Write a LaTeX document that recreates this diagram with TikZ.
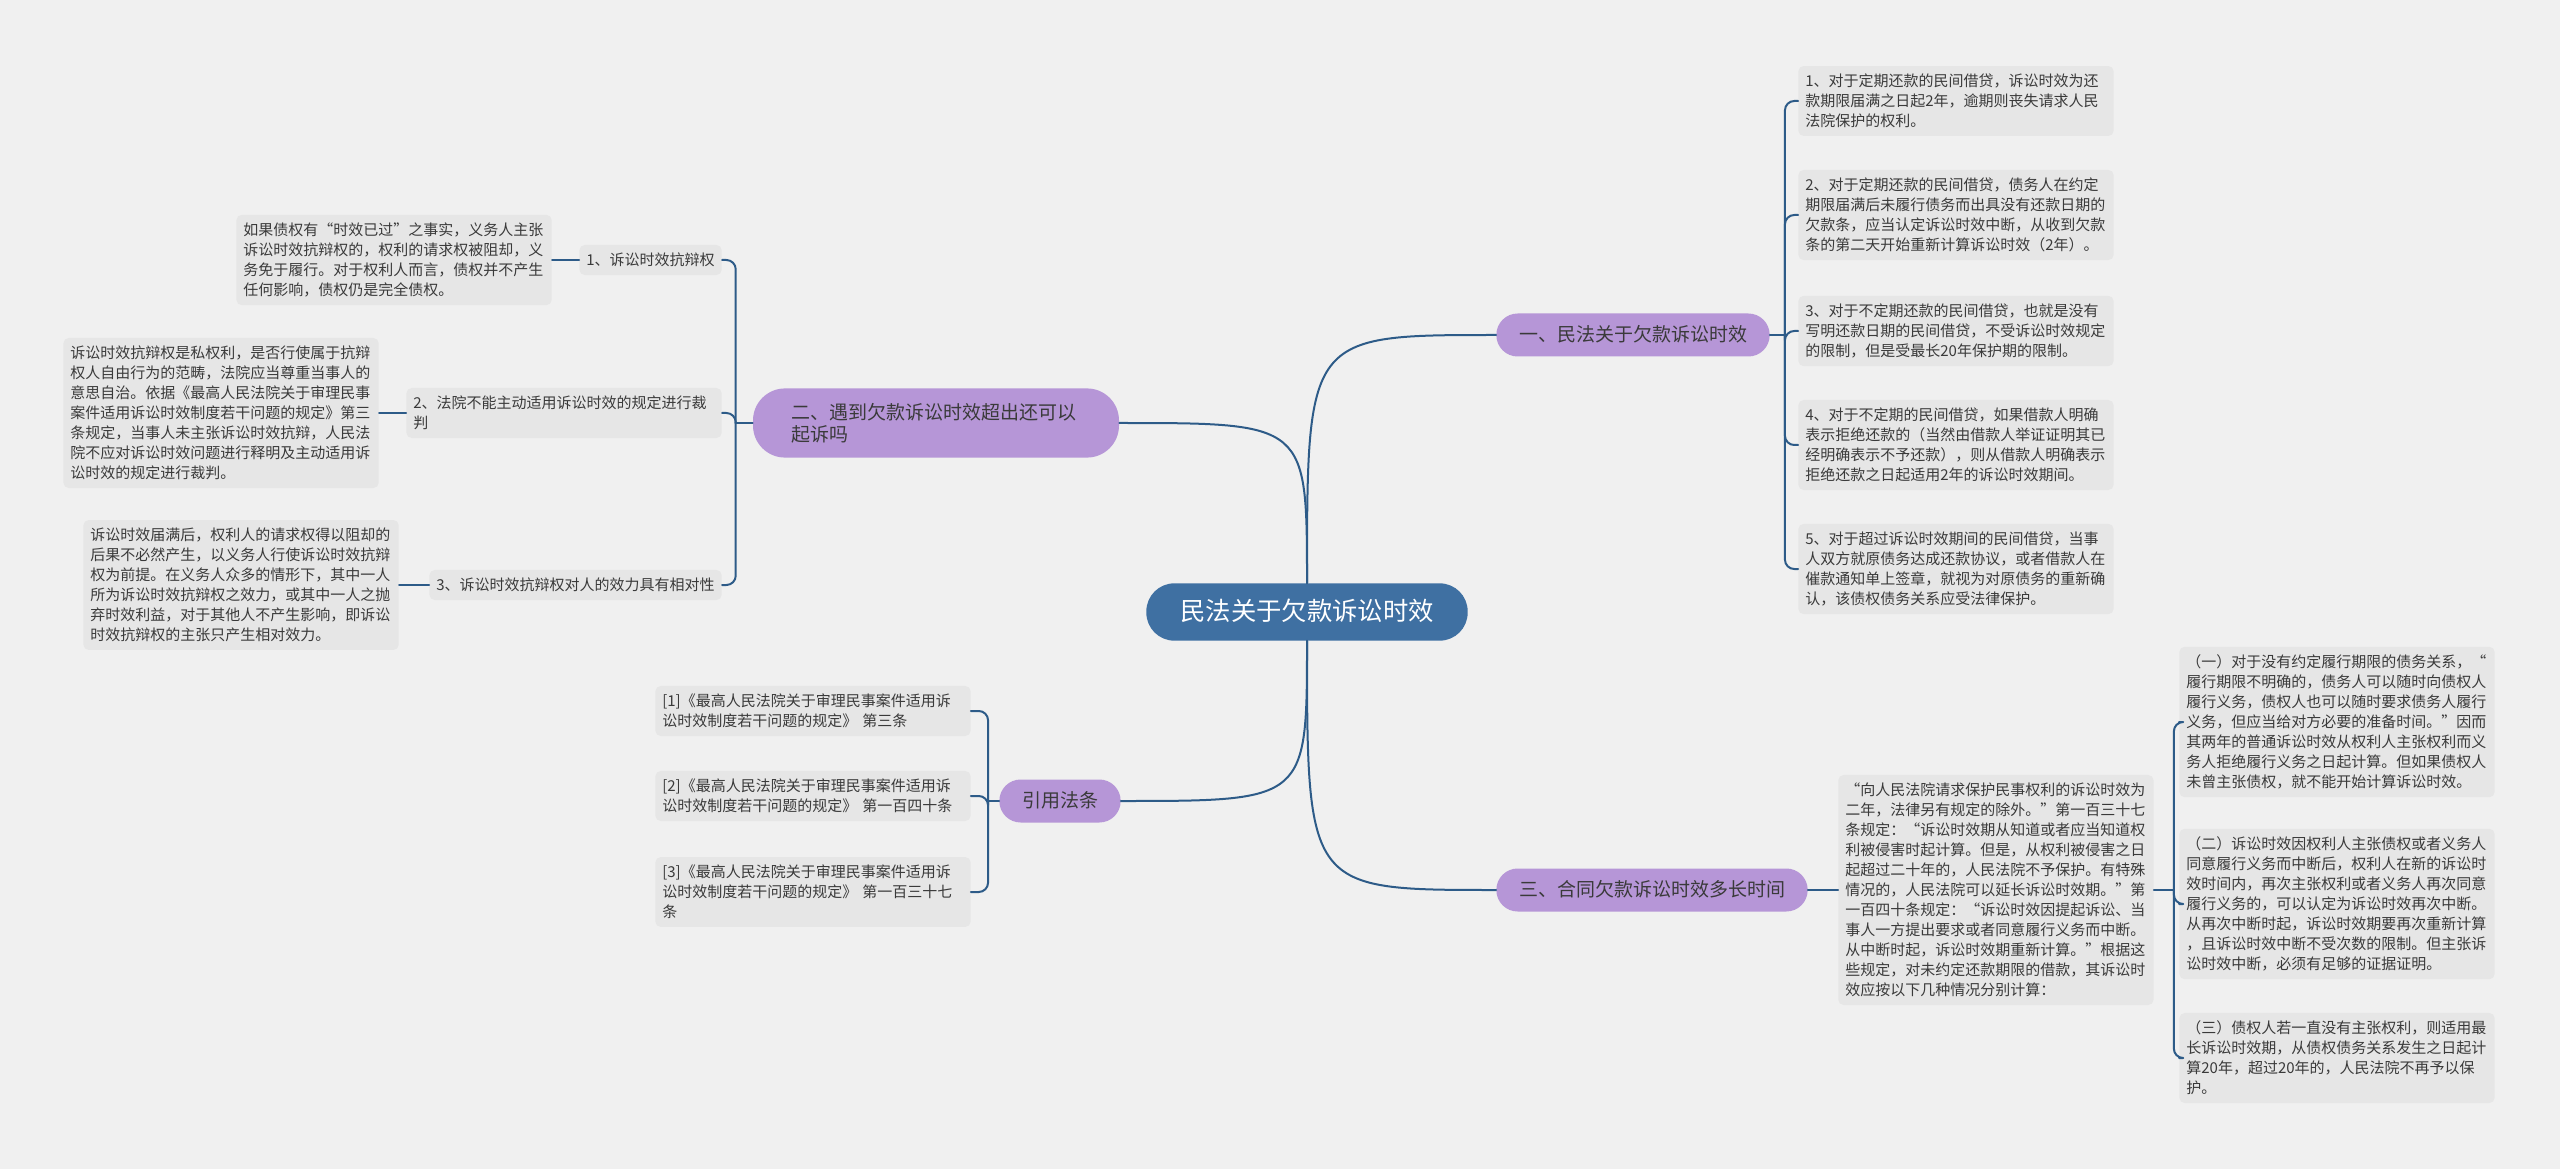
\documentclass[tikz,border=0pt]{standalone}
\usepackage{fontspec}
\setmainfont{Noto Sans CJK SC}
\usetikzlibrary{calc}
\definecolor{bgc}{HTML}{F0F0F0}
\definecolor{leafc}{HTML}{E6E6E6}
\definecolor{branchc}{HTML}{B696D7}
\definecolor{rootc}{HTML}{3F70A2}
\definecolor{linkc}{HTML}{2D5B88}
\definecolor{txtc}{HTML}{3A3A3A}
\begin{document}
\begin{tikzpicture}[x=0.75pt,y=-0.75pt,line join=round,line cap=round,
    link/.style={draw=linkc,line width=1.5pt},
    box/.style={fill=leafc,rounded corners=4pt,text=txtc,align=left,inner xsep=5.25pt,inner ysep=6pt,font=\fontsize{11.25}{15}\selectfont},
    leaf/.style={box,text width=226pt},
    branch/.style={fill=branchc,rounded corners=16pt,text=txtc,inner xsep=17pt,inner ysep=9pt,text height=12pt,text depth=2.25pt,font=\fontsize{14.25}{16.5}\selectfont}]
\useasboundingbox (0,0) rectangle (2560,1169);
\fill[bgc] (0,0) rectangle (2560,1169);
\node[fill=rootc,text=white,rounded corners=21pt,inner xsep=25.5pt,inner ysep=12pt,text height=16pt,text depth=3pt,font=\fontsize{19}{22}\selectfont] (root) at (1307,612) {民法关于欠款诉讼时效};
\node[branch] (b1) at (1633,335) {一、民法关于欠款诉讼时效};
\node[branch,align=left,text width=217.5pt,inner xsep=28.5pt,inner ysep=11pt,rounded corners=24pt,text height=,text depth=] (b2) at (936,423) {二、遇到欠款诉讼时效超出还可以\\起诉吗};
\node[branch] (b3) at (1652,890) {三、合同欠款诉讼时效多长时间};
\node[branch] (b4) at (1060,801) {引用法条};
\node[leaf] (l1) at (1956,101) {1、对于定期还款的民间借贷，诉讼时效为还\\款期限届满之日起2年，逾期则丧失请求人民\\法院保护的权利。};
\node[leaf] (l2) at (1956,215) {2、对于定期还款的民间借贷，债务人在约定\\期限届满后未履行债务而出具没有还款日期的\\欠款条，应当认定诉讼时效中断，从收到欠款\\条的第二天开始重新计算诉讼时效（2年）。};
\node[leaf] (l3) at (1956,331) {3、对于不定期还款的民间借贷，也就是没有\\写明还款日期的民间借贷，不受诉讼时效规定\\的限制，但是受最长20年保护期的限制。};
\node[leaf] (l4) at (1956,445) {4、对于不定期的民间借贷，如果借款人明确\\表示拒绝还款的（当然由借款人举证证明其已\\经明确表示不予还款），则从借款人明确表示\\拒绝还款之日起适用2年的诉讼时效期间。};
\node[leaf] (l5) at (1956,569) {5、对于超过诉讼时效期间的民间借贷，当事\\人双方就原债务达成还款协议，或者借款人在\\催款通知单上签章，就视为对原债务的重新确\\认，该债权债务关系应受法律保护。};
\node[box,anchor=east] (s1) at (722,260) {1、诉讼时效抗辩权};
\node[leaf,anchor=east] (s2) at (722,413) {2、法院不能主动适用诉讼时效的规定进行裁\\判};
\node[box,anchor=east] (s3) at (722,585) {3、诉讼时效抗辩权对人的效力具有相对性};
\node[leaf,anchor=east] (d1) at (552,260) {如果债权有“时效已过”之事实，义务人主张\\诉讼时效抗辩权的，权利的请求权被阻却，义\\务免于履行。对于权利人而言，债权并不产生\\任何影响，债权仍是完全债权。};
\node[leaf,anchor=east] (d2) at (379,413) {诉讼时效抗辩权是私权利，是否行使属于抗辩\\权人自由行为的范畴，法院应当尊重当事人的\\意思自治。依据《最高人民法院关于审理民事\\案件适用诉讼时效制度若干问题的规定》第三\\条规定，当事人未主张诉讼时效抗辩，人民法\\院不应对诉讼时效问题进行释明及主动适用诉\\讼时效的规定进行裁判。};
\node[leaf,anchor=east] (d3) at (399,585) {诉讼时效届满后，权利人的请求权得以阻却的\\后果不必然产生，以义务人行使诉讼时效抗辩\\权为前提。在义务人众多的情形下，其中一人\\所为诉讼时效抗辩权之效力，或其中一人之抛\\弃时效利益，对于其他人不产生影响，即诉讼\\时效抗辩权的主张只产生相对效力。};
\node[leaf] (r1) at (813,711) {[1]《最高人民法院关于审理民事案件适用诉\\讼时效制度若干问题的规定》 第三条};
\node[leaf] (r2) at (813,796) {[2]《最高人民法院关于审理民事案件适用诉\\讼时效制度若干问题的规定》 第一百四十条};
\node[leaf] (r3) at (813,892) {[3]《最高人民法院关于审理民事案件适用诉\\讼时效制度若干问题的规定》 第一百三十七\\条};
\node[leaf,anchor=west] (d4) at (1838,890) {“向人民法院请求保护民事权利的诉讼时效为\\二年，法律另有规定的除外。”第一百三十七\\条规定：“诉讼时效期从知道或者应当知道权\\利被侵害时起计算。但是，从权利被侵害之日\\起超过二十年的，人民法院不予保护。有特殊\\情况的，人民法院可以延长诉讼时效期。”第\\一百四十条规定：“诉讼时效因提起诉讼、当\\事人一方提出要求或者同意履行义务而中断。\\从中断时起，诉讼时效期重新计算。”根据这\\些规定，对未约定还款期限的借款，其诉讼时\\效应按以下几种情况分别计算：};
\node[leaf] (t1) at (2337,722) {（一）对于没有约定履行期限的债务关系，“\\履行期限不明确的，债务人可以随时向债权人\\履行义务，债权人也可以随时要求债务人履行\\义务，但应当给对方必要的准备时间。”因而\\其两年的普通诉讼时效从权利人主张权利而义\\务人拒绝履行义务之日起计算。但如果债权人\\未曾主张债权，就不能开始计算诉讼时效。};
\node[leaf] (t2) at (2337,904) {（二）诉讼时效因权利人主张债权或者义务人\\同意履行义务而中断后，权利人在新的诉讼时\\效时间内，再次主张权利或者义务人再次同意\\履行义务的，可以认定为诉讼时效再次中断。\\从再次中断时起，诉讼时效期要再次重新计算\\，且诉讼时效中断不受次数的限制。但主张诉\\讼时效中断，必须有足够的证据证明。};
\node[leaf] (t3) at (2337,1058) {（三）债权人若一直没有主张权利，则适用最\\长诉讼时效期，从债权债务关系发生之日起计\\算20年，超过20年的，人民法院不再予以保\\护。};
\draw[link] (root.north) .. controls (root.north |- b1.west) .. (b1.west);
\draw[link] (root.north) .. controls (root.north |- b2.east) .. (b2.east);
\draw[link] (root.south) .. controls (root.south |- b3.west) .. (b3.west);
\draw[link] (root.south) .. controls (root.south |- b4.east) .. (b4.east);
\coordinate (j1) at ($(b1.east)+(15,0)$);
\coordinate (j2) at ($(b2.west)+(-17,0)$);
\coordinate (j3) at ($(d4.east)+(20,0)$);
\coordinate (j4) at ($(b4.west)+(-11,0)$);
\draw[link] (b1.east) -- (j1) (b2.west) -- (j2) (b4.west) -- (j4) (b3.east) -- (d4.west) (d4.east) -- (j3);
\foreach \n in {l1,l2,l3,l4,l5} \draw[link,rounded corners=7pt] (j1) |- (\n.west);
\foreach \n in {s1,s2,s3} \draw[link,rounded corners=7pt] (j2) |- (\n.east);
\foreach \n in {r1,r2,r3} \draw[link,rounded corners=7pt] (j4) |- (\n.east);
\foreach \n in {t1,t2,t3} \draw[link,rounded corners=7pt] (j3) |- (\n.west);
\foreach \n/\m in {s1/d1,s2/d2,s3/d3} \draw[link] (\n.west) -- (\m.east);
\end{tikzpicture}
\end{document}
